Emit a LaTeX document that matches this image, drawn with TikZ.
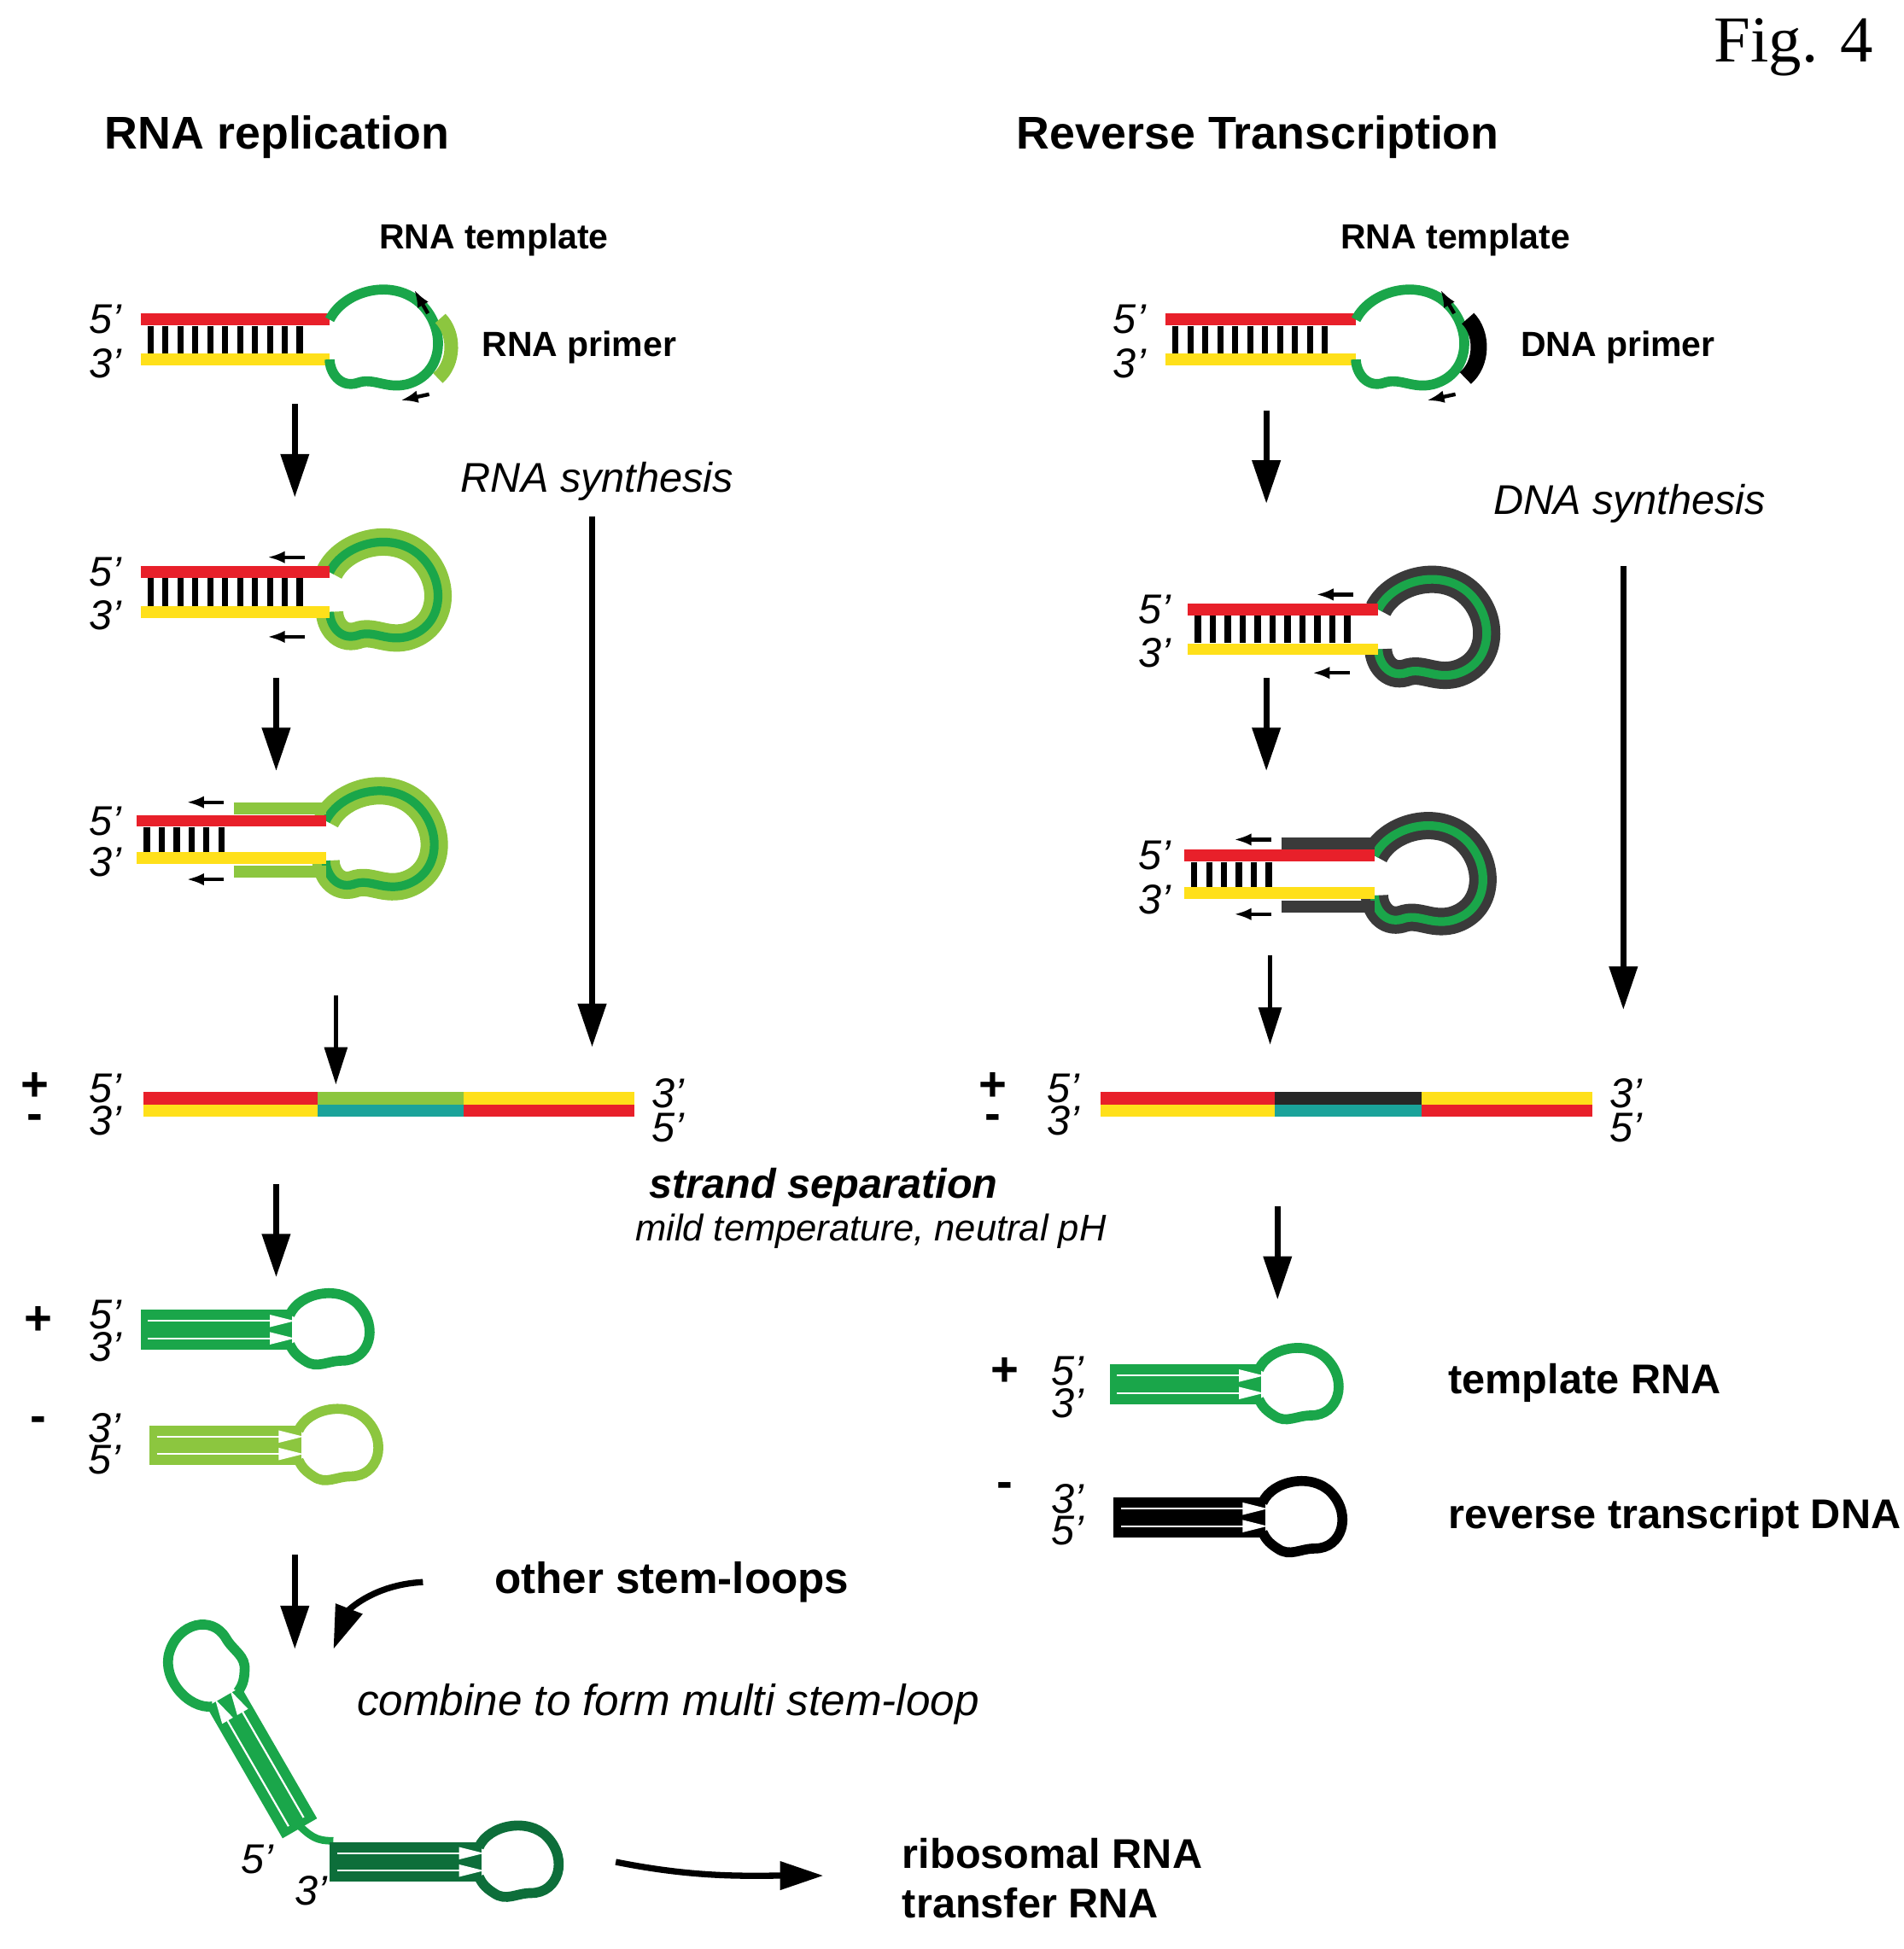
\documentclass[tikz,border=0pt]{standalone}
\usepackage{fontspec}
\setsansfont{Liberation Sans}
\setmainfont{Liberation Serif}
\usetikzlibrary{arrows.meta}
\definecolor{redS}{HTML}{E8202A}
\definecolor{yelS}{HTML}{FFE01A}
\definecolor{dgreen}{HTML}{1AA64A}
\definecolor{lgreen}{HTML}{8CC63F}
\definecolor{teal}{HTML}{1AA39A}
\definecolor{forest}{HTML}{0D6E3A}
\definecolor{dgray}{HTML}{3A3A3A}
% loop of a stem end, relative to the upper stem end
\def\looppath{(0,0) .. controls (12,-24) and (52,-34) .. (74,-12) .. controls (94,8) and (92,44) .. (62,52) .. controls (45,56) and (35,46) .. (22,51) .. controls (8,55) and (0,42) .. (0,32)}
\newcommand{\hairpin}[4]{%
  \begin{scope}[shift={(#1,#2)},rotate=#4]
    \fill[#3] (0,-16) rectangle (122,16);
    \draw[white,line width=0.15mm] (6,-7) -- (110,-7) (6,7) -- (110,7);
    \fill[white] (104,-12) -- (124,-7) -- (104,-2) -- cycle;
    \fill[white] (104,2) -- (124,7) -- (104,12) -- cycle;
    \draw[#3,line width=0.8mm] (120,-12) .. controls (128,-30) and (160,-36) .. (175,-20) .. controls (192,-2) and (184,25) .. (162,25) .. controls (150,25) and (142,32) .. (132,25) .. controls (124,20) and (122,16) .. (120,12);
  \end{scope}}
\begin{document}
\begin{tikzpicture}[x=0.1mm,y=-0.1mm,font=\sffamily,
  strand/.style={line width=0.95mm},
  rung/.style={line width=0.5mm},
  edge/.style={-{Triangle[length=3.5mm,width=2.2mm]},line width=0.5mm},
  thinedge/.style={-{Triangle[length=3mm,width=1.8mm]},line width=0.35mm},
  smalledge/.style={-{Latex[length=1.4mm,width=1mm]},line width=0.3mm},
  prime/.style={font=\sffamily\itshape\fontsize{9.5}{10}\selectfont,inner sep=0pt},
  sign/.style={font=\sffamily\bfseries\fontsize{11}{11}\selectfont,inner sep=0pt},
  head/.style={font=\sffamily\bfseries\fontsize{10.5}{12}\selectfont},
  lab/.style={font=\sffamily\bfseries\fontsize{8}{10}\selectfont},
  side/.style={font=\sffamily\bfseries\fontsize{9.5}{12}\selectfont,anchor=west}]
\useasboundingbox (0,0) rectangle (1530,1567);

\node[font=\rmfamily\fontsize{15}{15}\selectfont,anchor=east] (fig) at (1518,38) {Fig. 4};
\node[head,anchor=west] (tleft) at (72,110) {RNA replication};
\node[head,anchor=west] (tright) at (805,110) {Reverse Transcription};

% ---------- RNA replication ----------
\node[lab] (tmplA) at (397,193) {RNA template};
\node[prime] (a5) at (85,257) {5'};
\node[prime] (a3) at (85,292) {3'};
\draw[strand,redS] (113,257) -- (265,257);
\draw[strand,yelS] (113,289) -- (265,289);
\foreach \x in {121,133,...,250} \draw[rung] (\x,262) -- (\x,284);
\begin{scope}[shift={(265,257)}]
  \draw[dgreen,line width=0.8mm] \looppath;
\end{scope}
\draw[lgreen,line width=1.1mm] (354,256) .. controls (366,268) and (366,292) .. (352,304);
\draw[smalledge] (344,252) -- (333,233);
\draw[smalledge] (345,317) -- (322,322);
\node[lab,anchor=west] (primA) at (375,279) {RNA primer};

\coordinate (a1s) at (237,325); \coordinate (a1e) at (237,400);
\draw[edge] (a1s) -- (a1e);
\node[font=\sffamily\itshape\fontsize{9.5}{12}\selectfont] (synA) at (480,387) {RNA synthesis};
\coordinate (sAs) at (476,415); \coordinate (sAe) at (476,842);
\draw[edge] (sAs) -- (sAe);

\node[prime] (b5) at (85,460) {5'};
\node[prime] (b3) at (85,495) {3'};
\begin{scope}[shift={(265,460)}]
  \draw[lgreen,line width=2.2mm] \looppath;
  \draw[dgreen,line width=0.7mm] \looppath;
\end{scope}
\draw[strand,redS] (113,460) -- (265,460);
\draw[strand,yelS] (113,492) -- (265,492);
\foreach \x in {121,133,...,250} \draw[rung] (\x,465) -- (\x,487);
\draw[smalledge] (245,448) -- (215,448);
\draw[smalledge] (245,512) -- (215,512);

\coordinate (a2s) at (222,545); \coordinate (a2e) at (222,620);
\draw[edge] (a2s) -- (a2e);

\node[prime] (c5) at (85,660) {5'};
\node[prime] (c3) at (85,693) {3'};
\begin{scope}[shift={(262,660)}]
  \draw[lgreen,line width=2.2mm] \looppath;
  \draw[dgreen,line width=0.7mm] \looppath;
\end{scope}
\draw[strand,lgreen] (188,650) -- (262,650);
\draw[strand,lgreen] (188,701) -- (262,701);
\draw[strand,redS] (110,660) -- (262,660);
\draw[strand,yelS] (110,690) -- (262,690);
\foreach \x in {118,130,...,188} \draw[rung] (\x,665) -- (\x,685);
\draw[smalledge] (180,645) -- (150,645);
\draw[smalledge] (180,707) -- (150,707);

\coordinate (a3s) at (270,800); \coordinate (a3e) at (270,872);
\draw[thinedge] (a3s) -- (a3e);

\node[sign] (plA) at (28,874) {+};
\node[sign] (miA) at (28,902) {-};
\node[prime] (d5) at (85,875) {5'};
\node[prime] (d3) at (85,901) {3'};
\node[prime] (d3r) at (537,879) {3'};
\node[prime] (d5r) at (537,907) {5'};
\draw[line width=1mm,redS] (115,883) -- (255,883);
\draw[line width=1mm,lgreen] (255,883) -- (373,883);
\draw[line width=1mm,yelS] (373,883) -- (510,883);
\draw[line width=1mm,yelS] (115,893) -- (255,893);
\draw[line width=1mm,teal] (255,893) -- (373,893);
\draw[line width=1mm,redS] (373,893) -- (510,893);

\coordinate (a4s) at (222,952); \coordinate (a4e) at (222,1027);
\draw[edge] (a4s) -- (a4e);
\node[font=\sffamily\bfseries\itshape\fontsize{9.5}{12}\selectfont] (sep) at (662,955) {strand separation};
\node[font=\sffamily\itshape\fontsize{8.5}{10}\selectfont] (cond) at (700,990) {mild temperature, neutral pH};

\node[sign] (plB) at (31,1062) {+};
\node[prime] (e5) at (85,1057) {5'};
\node[prime] (e3) at (85,1083) {3'};
\hairpin{113}{1069}{dgreen}{0}
\node[sign] (miB) at (31,1145) {-};
\node[prime] (f3) at (84,1148) {3'};
\node[prime] (f5) at (84,1174) {5'};
\hairpin{120}{1162}{lgreen}{0}

\coordinate (a5s) at (237,1250); \coordinate (a5e) at (237,1326);
\draw[edge] (a5s) -- (a5e);
\coordinate (oth) at (340,1272); \coordinate (othe) at (268,1326);
\draw[edge] (oth) .. controls (300,1274) and (280,1295) .. (othe);
\node[font=\sffamily\bfseries\fontsize{10}{12}\selectfont] (other) at (540,1272) {other stem-loops};
\node[font=\sffamily\itshape\fontsize{10}{12}\selectfont] (comb) at (537,1370) {combine to form multi stem-loop};

\draw[dgreen,line width=0.6mm] (235,1462) .. controls (250,1478) and (255,1480) .. (268,1480);
\hairpin{241}{1470}{dgreen}{120}
\hairpin{265}{1497}{forest}{0}
\node[prime] (g5) at (207,1495) {5'};
\node[prime] (g3) at (250,1520) {3'};
\coordinate (rbs) at (495,1497); \coordinate (rbe) at (662,1508);
\draw[edge] (rbs) .. controls (560,1510) and (600,1508) .. (rbe);
\node[side] (ribo) at (713,1490) {ribosomal RNA};
\node[side] (trna) at (713,1530) {transfer RNA};

% ---------- Reverse Transcription ----------
\node[lab] (tmplB) at (1170,193) {RNA template};
\node[prime] (h5) at (908,257) {5'};
\node[prime] (h3) at (908,292) {3'};
\draw[strand,redS] (937,257) -- (1090,257);
\draw[strand,yelS] (937,289) -- (1090,289);
\foreach \x in {945,957,...,1074} \draw[rung] (\x,262) -- (\x,284);
\begin{scope}[shift={(1090,257)}]
  \draw[dgreen,line width=0.8mm] \looppath;
\end{scope}
\draw[black,line width=1.3mm] (1180,256) .. controls (1192,268) and (1192,292) .. (1178,304);
\draw[smalledge] (1169,252) -- (1158,233);
\draw[smalledge] (1170,317) -- (1147,322);
\node[lab,anchor=west] (primB) at (1210,279) {DNA primer};

\coordinate (b1s) at (1018,330); \coordinate (b1e) at (1018,405);
\draw[edge] (b1s) -- (b1e);
\node[font=\sffamily\itshape\fontsize{9.5}{12}\selectfont] (synB) at (1310,405) {DNA synthesis};
\coordinate (sBs) at (1305,455); \coordinate (sBe) at (1305,812);
\draw[edge] (sBs) -- (sBe);

\node[prime] (i5) at (928,490) {5'};
\node[prime] (i3) at (928,525) {3'};
\begin{scope}[shift={(1108,490)}]
  \draw[dgray,line width=2.2mm] \looppath;
  \draw[dgreen,line width=0.7mm] \looppath;
\end{scope}
\draw[strand,redS] (955,490) -- (1108,490);
\draw[strand,yelS] (955,522) -- (1108,522);
\foreach \x in {963,975,...,1092} \draw[rung] (\x,495) -- (\x,517);
\draw[smalledge] (1088,478) -- (1058,478);
\draw[smalledge] (1085,541) -- (1055,541);

\coordinate (b2s) at (1018,545); \coordinate (b2e) at (1018,620);
\draw[edge] (b2s) -- (b2e);

\node[prime] (j5) at (928,688) {5'};
\node[prime] (j3) at (928,723) {3'};
\begin{scope}[shift={(1105,688)}]
  \draw[dgray,line width=2.2mm] \looppath;
  \draw[dgreen,line width=0.7mm] \looppath;
\end{scope}
\draw[strand,dgray] (1030,678) -- (1105,678);
\draw[strand,dgray] (1030,729) -- (1105,729);
\draw[strand,redS] (952,688) -- (1105,688);
\draw[strand,yelS] (952,718) -- (1105,718);
\foreach \x in {960,972,...,1030} \draw[rung] (\x,693) -- (\x,713);
\draw[smalledge] (1022,675) -- (992,675);
\draw[smalledge] (1022,735) -- (992,735);

\coordinate (b3s) at (1021,768); \coordinate (b3e) at (1021,840);
\draw[thinedge] (b3s) -- (b3e);

\node[sign] (plC) at (798,874) {+};
\node[sign] (miC) at (798,902) {-};
\node[prime] (k5) at (855,875) {5'};
\node[prime] (k3) at (855,901) {3'};
\node[prime] (k3r) at (1307,879) {3'};
\node[prime] (k5r) at (1307,907) {5'};
\draw[line width=1mm,redS] (885,883) -- (1025,883);
\draw[line width=1mm,black!85] (1025,883) -- (1143,883);
\draw[line width=1mm,yelS] (1143,883) -- (1280,883);
\draw[line width=1mm,yelS] (885,893) -- (1025,893);
\draw[line width=1mm,teal] (1025,893) -- (1143,893);
\draw[line width=1mm,redS] (1143,893) -- (1280,893);

\coordinate (b4s) at (1027,970); \coordinate (b4e) at (1027,1045);
\draw[edge] (b4s) -- (b4e);

\node[sign] (plD) at (808,1103) {+};
\node[prime] (l5) at (858,1102) {5'};
\node[prime] (l3) at (858,1128) {3'};
\hairpin{892}{1113}{dgreen}{0}
\node[side] (trna2) at (1152,1112) {template RNA};
\node[sign] (miD) at (808,1198) {-};
\node[prime] (m3) at (858,1205) {3'};
\node[prime] (m5) at (858,1231) {5'};
\hairpin{895}{1220}{black}{0}
\node[side] (rtd) at (1152,1220) {reverse transcript DNA};
\end{tikzpicture}
\end{document}
